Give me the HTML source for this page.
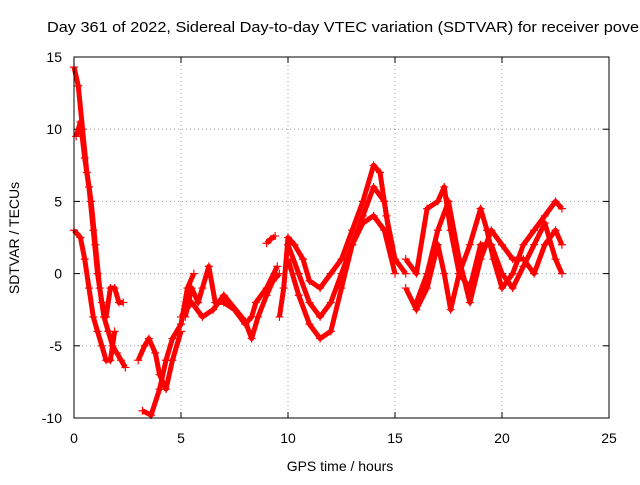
<!DOCTYPE html>
<html><head><meta charset="utf-8"><style>
body{margin:0;background:#fff}
svg text{font-family:"Liberation Sans",sans-serif;font-size:14px;fill:#000}
</style></head><body>
<svg id="chart" width="640" height="480">
<rect width="640" height="480" fill="#fff"/>
<text x="47" y="32" textLength="592" lengthAdjust="spacingAndGlyphs" style="font-size:15px">Day 361 of 2022, Sidereal Day-to-day VTEC variation (SDTVAR) for receiver pove</text>
<g id="grid"></g><g id="axes"></g><g id="series"></g>
<rect x="74" y="57" width="535" height="361" fill="none" stroke="#000" stroke-width="1"/>
<text x="340" y="471" text-anchor="middle">GPS time / hours</text>
<text transform="translate(19,238) rotate(-90)" text-anchor="middle">SDTVAR / TECUs</text>
</svg>
<script>
const xTicks=[0,5,10,15,20,25];
const yTicks=[-10,-5,0,5,10,15];
const s1=[[0,14.3],[0.2,13],[0.4,10],[0.6,7],[0.8,5],[1.0,2],[1.2,-1],[1.4,-3],[1.6,-4],[1.8,-5],[2.0,-5.5],[2.2,-6],[2.4,-6.5]];
const s2=[[0.1,9.5],[0.3,10.5],[0.5,8],[0.7,6],[0.9,3],[1.1,0],[1.3,-2],[1.5,-3],[1.7,-1],[1.9,-1],[2.1,-2],[2.3,-2]];
const s3=[[0,3],[0.3,2.5],[0.5,1],[0.7,-1],[0.9,-3],[1.1,-4],[1.3,-5],[1.5,-6],[1.7,-6],[1.9,-4]];
const s4=[[3.0,-6],[3.3,-5],[3.5,-4.5],[3.8,-5.5],[4.0,-7],[4.3,-8],[4.6,-6],[5.0,-4]];
const s5=[[3.2,-9.5],[3.6,-9.8],[4.0,-8],[4.3,-6],[4.6,-4.5],[5.0,-3.5],[5.3,-1],[5.6,0]];
const s6=[[5.2,-3],[5.5,-1],[5.8,-2],[6.0,-1],[6.3,0.5],[6.6,-2],[7,-2],[7.5,-2.5],[8,-3.5],[8.3,-3],[8.5,-2],[9,-1],[9.5,0.5]];
const s7=[[5,-3],[5.5,-2],[6,-3],[6.5,-2.5],[7,-1.5],[8,-3.3],[8.3,-4.5],[8.6,-3],[9,-1.5],[9.3,-0.5],[9.6,0]];
const s8=[[9.0,2.1],[9.2,2.4],[9.4,2.6]];
const s9=[[9.6,-3],[9.8,-1],[10,2.5],[10.3,2],[10.7,1],[11,-0.5],[11.5,-1],[12,0],[12.5,1],[13,3],[13.5,5],[14,7.5],[14.3,7],[14.6,4],[15,1],[15.5,0]];
const s10=[[10,2],[10.5,0],[11,-2],[11.5,-3],[12,-2],[12.5,0],[13,2],[13.5,4],[14,6],[14.5,5],[14.8,2]];
const s11=[[10,1],[10.5,-1.5],[11,-3.5],[11.5,-4.5],[12,-4],[12.5,-1],[13,2],[13.5,3.5],[14,4],[14.5,3],[15,0]];
const s12=[[15.5,-1],[16,-2.5],[16.5,-1],[17,2],[17.3,0],[17.6,-2.5],[18,0],[18.5,2],[19,4.5],[19.3,3],[19.6,1],[20,-1],[20.5,0],[21,2],[21.5,3],[22,4],[22.5,5],[22.8,4.5]];
const s13=[[15.5,1],[16,0],[16.5,4.5],[17,5],[17.3,6],[17.6,3],[18,0],[18.5,-1],[19,2],[19.5,2],[20,0],[20.5,-1],[21,0.5],[21.5,2],[22,3.5],[22.5,1],[22.8,0]];
const s14=[[16,-2],[16.5,0],[17,3],[17.5,5],[18,1],[18.5,-2],[19,1],[19.5,3],[20,2],[20.5,1],[21,1],[21.5,0],[22,2],[22.5,3],[22.8,2]];
const allSeries=[s1,s2,s3,s4,s5,s6,s7,s8,s9,s10,s11,s12,s13,s14];
const X=v=>74+v*535/25, Y=v=>418-(v+10)*361/25;
const NS="http://www.w3.org/2000/svg";
const mk=(t,a,p)=>{const e=document.createElementNS(NS,t);for(const k in a)e.setAttribute(k,a[k]);p.appendChild(e);return e;};
const grid=document.getElementById('grid'),axes=document.getElementById('axes'),ser=document.getElementById('series');
xTicks.forEach(t=>{
 if(t>0&&t<25){const l=mk('line',{x1:X(t),x2:X(t),y1:57,y2:418,stroke:'#a0a0a0','stroke-dasharray':'1,3'},grid);
 }
 mk('line',{x1:X(t),x2:X(t),y1:418,y2:412,stroke:'#000'},axes);mk('line',{x1:X(t),x2:X(t),y1:57,y2:63,stroke:'#000'},axes);
 const tx=mk('text',{x:X(t),y:443,'text-anchor':'middle'},axes);tx.textContent=t;
 
});
yTicks.forEach(t=>{
 if(t>-10&&t<15){const l=mk('line',{x1:74,x2:609,y1:Y(t),y2:Y(t),stroke:'#a0a0a0','stroke-dasharray':'1,3'},grid);
 }
 mk('line',{x1:74,x2:80,y1:Y(t),y2:Y(t),stroke:'#000'},axes);mk('line',{x1:603,x2:609,y1:Y(t),y2:Y(t),stroke:'#000'},axes);
 const tx=mk('text',{x:62,y:Y(t)+5,'text-anchor':'end'},axes);tx.textContent=t;
 
});
allSeries.forEach(s=>{
 const pl=mk('polyline',{points:s.map(p=>X(p[0])+','+Y(p[1])).join(' '),fill:'none',stroke:'#f00','stroke-width':5,'stroke-linejoin':'round'},ser);
 
 
 s.forEach(p=>{const x=X(p[0]),y=Y(p[1]);
  const m=mk('path',{d:`M${x-4},${y}H${x+4}M${x},${y-4}V${y+4}`,stroke:'#f00','stroke-width':1.2},ser);
  
  });
});
</script>
</body></html>
